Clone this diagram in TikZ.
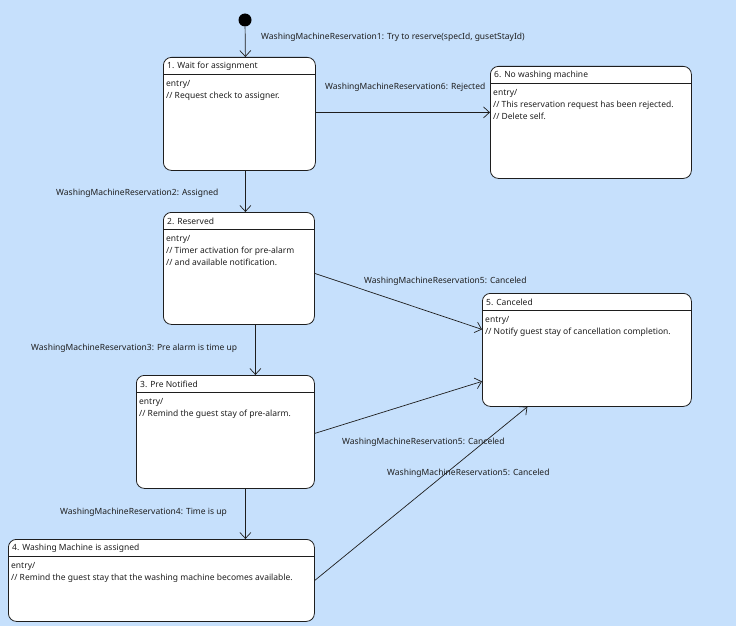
\documentclass[tikz,border=0pt]{standalone}
\usepackage{fontspec}
\setmainfont{Noto Sans}
\usetikzlibrary{arrows.meta,calc}
\definecolor{bg}{RGB}{198,224,252}
\definecolor{ink}{RGB}{30,30,30}
\newcommand\umlstate[8]{%
  \node[state, minimum width=#4pt, minimum height=#5pt] (#1) at (#2,#3) {};
  \draw[ink, line width=0.8pt] ([yshift=-#6pt]#1.north west) -- ([yshift=-#6pt]#1.north east);
  \node[lbl] (#1t) at ($(#1.north west)+(4,#6/2+0.8)$) {#7};
  \node[body] (#1b) at ($(#1.north west)+(3,#6+5.5)$) {#8};
}
\begin{document}
\begin{tikzpicture}[x=1pt,y=-1pt,
  state/.style={draw=ink, line width=0.8pt, fill=white, rounded corners=8pt, anchor=north west, inner sep=0pt},
  tr/.style={draw=ink, line width=0.7pt, -{Straight Barb[length=6pt,width=11pt]}},
  lbl/.style={font=\fontsize{8.5}{10}\selectfont, text=ink, inner sep=0pt, anchor=west},
  body/.style={font=\fontsize{8.5}{12}\selectfont, text=ink, inner sep=0pt, anchor=north west, align=left},
]
\fill[bg] (0,0) rectangle (736,626);
\useasboundingbox (0,0) rectangle (736,626);

\umlstate{s1}{163}{57}{152}{113}{17.5}{1. Wait for assignment}{entry/\\// Request check to assigner.}
\umlstate{s6}{490}{66}{201}{112}{17.5}{6. No washing machine}{entry/\\// This reservation request has been rejected.\\// Delete self.}
\umlstate{s2}{163}{212}{151}{112}{17.5}{2. Reserved}{entry/\\// Timer activation for pre-alarm\\// and available notification.}
\umlstate{s5}{482}{293}{209}{113}{17.5}{5. Canceled}{entry/\\// Notify guest stay of cancellation completion.}
\umlstate{s3}{136}{375}{178}{113}{17.5}{3. Pre Notified}{entry/\\// Remind the guest stay of pre-alarm.}
\umlstate{s4}{8}{539}{306}{82}{17.5}{4. Washing Machine is assigned}{entry/\\// Remind the guest stay that the washing machine becomes available.}

\node[circle, fill=black, minimum size=13pt, inner sep=0pt] (init) at (245,20) {};

\draw[tr] (init) -- ([xshift=6pt]s1.north);
\draw[tr] ([yshift=1.5pt]s1.east) -- ([yshift=1.5pt]s1.east -| s6.west);
\draw[tr] ([xshift=6pt]s1.south) -- ([xshift=6pt]s1.south |- s2.north);
\draw[tr] ([yshift=-5pt]s2.east) -- ([yshift=20.5pt]s5.west);
\draw[tr] ([xshift=16.5pt]s2.south) -- ([xshift=16.5pt]s2.south |- s3.north);
\draw[tr] ([yshift=-1.5pt]s3.east) -- ([yshift=-31.5pt]s5.west);
\draw[tr] ([xshift=20pt]s3.south) -- ([xshift=20pt]s3.south |- s4.north);
\draw[tr] (s4.east) -- ([xshift=-59.5pt]s5.south);

\node[lbl] (l1) at (261,37) {WashingMachineReservation1: Try to reserve(specId, gusetStayId)};
\node[lbl] (l6) at (325,87) {WashingMachineReservation6: Rejected};
\node[lbl] (l2) at (56,193) {WashingMachineReservation2: Assigned};
\node[lbl] (l5a) at (364,281) {WashingMachineReservation5: Canceled};
\node[lbl] (l3) at (31,348) {WashingMachineReservation3: Pre alarm is time up};
\node[lbl] (l5b) at (342,442) {WashingMachineReservation5: Canceled};
\node[lbl] (l4) at (60,512) {WashingMachineReservation4: Time is up};
\node[lbl] (l5c) at (387,473) {WashingMachineReservation5: Canceled};
\end{tikzpicture}
\end{document}
